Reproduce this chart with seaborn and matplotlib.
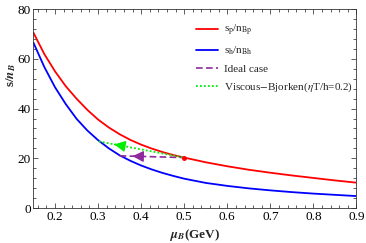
import numpy as np
import pandas as pd
import matplotlib
matplotlib.use("Agg")
import matplotlib.pyplot as plt
from matplotlib.ticker import MultipleLocator, AutoMinorLocator
import seaborn as sns

# 曲线数据
mu_B = [0.15, 0.175, 0.2, 0.225, 0.25, 0.275, 0.3, 0.325, 0.35, 0.375,
        0.4, 0.425, 0.45, 0.475, 0.5, 0.55, 0.6, 0.65, 0.7, 0.75,
        0.8, 0.85, 0.9]
s_nB_p = [70.5, 62.0, 55.0, 49.0, 44.0, 39.5, 35.6, 32.4, 29.7, 27.4,
          25.5, 23.9, 22.5, 21.3, 20.3, 18.4, 16.8, 15.4, 14.2, 13.1,
          12.1, 11.1, 10.2]
s_nB_h = [66.5, 56.8, 48.6, 41.8, 35.9, 31.2, 27.3, 24.0, 21.2, 19.0,
          17.1, 15.5, 14.1, 12.9, 11.8, 10.1, 8.9, 7.9, 7.1, 6.4,
          5.8, 5.3, 4.8]

# 轨迹 (起点 -> 终点)
ideal_mu = [0.5, 0.35]
ideal_s = [20.3, 21.0]
visc_mu = [0.5, 0.302]
visc_s = [20.3, 26.8]

start_mu = [0.5]
start_s = [20.3]

labels = [r"s$_\mathrm{p}$/n$_\mathrm{Bp}$", r"s$_\mathrm{h}$/n$_\mathrm{Bh}$",
          "Ideal case", r"Viscous$-$Bjorken($\eta$T/h=0.2)"]

sns.set_theme(style="ticks")
plt.rcParams["font.family"] = ["Liberation Serif", "DejaVu Serif"]
plt.rcParams["mathtext.fontset"] = "stix"

fig = plt.figure(figsize=(3.66, 2.43), dpi=100)
ax = fig.add_axes([0.0915, 0.144, 0.8825, 0.818])

red, blue, purple, green = "#ff0000", "#0000ff", "#8e2a9e", "#00ee00"

sns.lineplot(x=mu_B, y=s_nB_p, ax=ax, color=red, lw=1.3, label=labels[0])
sns.lineplot(x=mu_B, y=s_nB_h, ax=ax, color=blue, lw=1.3, label=labels[1])
sns.lineplot(x=ideal_mu, y=ideal_s, ax=ax, color=purple, lw=1.2,
             linestyle=(0, (4, 2)), label=labels[2])
sns.lineplot(x=visc_mu, y=visc_s, ax=ax, color=green, lw=1.3,
             linestyle=(0, (1, 1.2)), label=labels[3])
ax.plot(start_mu, start_s, "o", color=red, ms=2.5)

# 中间箭头
for xs, ys, c, f in [(ideal_mu, ideal_s, purple, 0.8), (visc_mu, visc_s, green, 0.82)]:
    xa = xs[0] + f * (xs[1] - xs[0])
    ya = ys[0] + f * (ys[1] - ys[0])
    xb = xs[0] + (f - 0.01) * (xs[1] - xs[0])
    yb = ys[0] + (f - 0.01) * (ys[1] - ys[0])
    ax.annotate("", xy=(xa, ya), xytext=(xb, yb),
                arrowprops=dict(arrowstyle="-|>,head_length=0.55,head_width=0.28",
                                color=c, lw=1.0, shrinkA=0, shrinkB=0))

ax.set_xlim(0.15, 0.9)
ax.set_ylim(0, 80)
ax.xaxis.set_major_locator(MultipleLocator(0.1))
ax.xaxis.set_minor_locator(AutoMinorLocator(5))
ax.yaxis.set_major_locator(MultipleLocator(20))
ax.yaxis.set_minor_locator(AutoMinorLocator(5))
ax.tick_params(which="both", direction="in", top=True, right=True,
               labelsize=9.5, pad=2, width=0.6, colors="#444444", labelcolor="black")
ax.tick_params(which="major", length=3.5)
ax.tick_params(which="minor", length=2)
for sp in ax.spines.values():
    sp.set_linewidth(0.6)
    sp.set_color("#333333")
sns.despine(ax=ax, top=False, right=False)

ax.set_xlabel(r"$\mathbfit{\mu}_{\mathbfit{B}}$(GeV)", fontsize=9.5, fontweight="bold", labelpad=3)
ax.set_ylabel(r"s/$\mathbfit{n}_{\mathbfit{B}}$", fontsize=9.5, fontweight="bold")
ax.yaxis.set_label_coords(-0.048, 0.67)

leg = ax.legend(loc="upper left", bbox_to_anchor=(0.503, 0.93), frameon=False,
                fontsize=8, handlelength=2.0, handletextpad=0.55, labelspacing=0.6,
                borderaxespad=0, borderpad=0)

fig.savefig("out.png", dpi=100)
